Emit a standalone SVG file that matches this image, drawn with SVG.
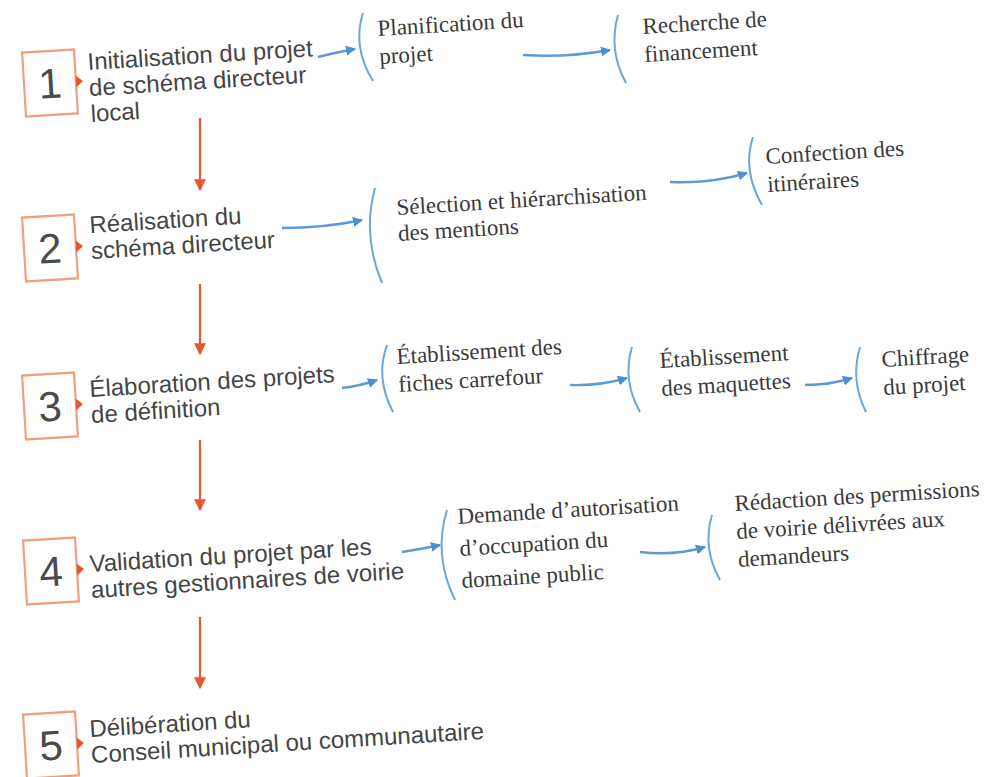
<svg xmlns="http://www.w3.org/2000/svg" width="1006" height="777" viewBox="0 0 1006 777">
<defs>
<style>
.bg{fill:#ffffff}
.box{fill:#ffffff;stroke:#f0a07e;stroke-width:2.2}
.num{font-family:"Liberation Sans",Arial,sans-serif;font-size:42px;fill:#4a4a4a;text-anchor:middle}
.tri{fill:#e8562e}
.sans{font-family:"Liberation Sans",Arial,sans-serif;font-size:24px;fill:#454545}
.serif{font-family:"Liberation Serif","Times New Roman",serif;font-size:23px;fill:#3a3a3a}
.red{stroke:#e8562e;stroke-width:2.2;fill:none}
.blue{stroke:#5b9bd5;stroke-width:2.4;fill:none}
.brk{stroke:#6aa6dc;stroke-width:2;fill:none}
</style>
<marker id="ar" viewBox="0 0 10 10" refX="9" refY="5" markerWidth="14" markerHeight="12" markerUnits="userSpaceOnUse" orient="auto">
<path d="M0,0 L10,5 L0,10 Z" fill="#e8562e"/>
</marker>
<marker id="ab" viewBox="0 0 10 10" refX="9" refY="5" markerWidth="10" markerHeight="10" markerUnits="userSpaceOnUse" orient="auto">
<path d="M0,0 L10,5 L0,10 Z" fill="#4a8fd0"/>
</marker>
</defs>
<rect class="bg" x="0" y="0" width="1006" height="777"/>

<g id="connectors">
<line class="red" x1="200" y1="118" x2="200" y2="190" marker-end="url(#ar)"/>
<line class="red" x1="200" y1="284" x2="200" y2="354" marker-end="url(#ar)"/>
<line class="red" x1="200" y1="440" x2="200" y2="510" marker-end="url(#ar)"/>
<line class="red" x1="200" y1="617" x2="200" y2="688" marker-end="url(#ar)"/>
<path class="blue" d="M318,57 Q338,52 355,49" marker-end="url(#ab)"/>
<path class="blue" d="M523,55 Q565,58 610,50" marker-end="url(#ab)"/>
<path class="blue" d="M282,228 Q325,228 362,220" marker-end="url(#ab)"/>
<path class="blue" d="M670,182 Q710,184 747,173" marker-end="url(#ab)"/>
<path class="blue" d="M342,388 Q360,386 377,380" marker-end="url(#ab)"/>
<path class="blue" d="M570,385 Q600,386 627,378" marker-end="url(#ab)"/>
<path class="blue" d="M805,385 Q830,385 852,378" marker-end="url(#ab)"/>
<path class="blue" d="M402,552 Q422,549 440,545" marker-end="url(#ab)"/>
<path class="blue" d="M640,552 Q675,556 705,547" marker-end="url(#ab)"/>
</g>

<g id="n1">
<g transform="rotate(-3.5 50 83)">
<rect class="box" x="24" y="51" width="52" height="64"/>
<text class="num" x="50" y="98">1</text>
<path class="tri" d="M76,77 L83,83 L76,89 Z"/>
</g>
<text class="sans" transform="translate(88,70) rotate(-3.5)"><tspan x="0" y="0">Initialisation du projet</tspan><tspan x="0" y="26">de schéma directeur</tspan><tspan x="0" y="52">local</tspan></text>
</g>
<g id="n1b">
<path class="brk" d="M363,13 Q352,47 373,81"/>
<text class="serif" transform="translate(378,36) rotate(-3.5)"><tspan x="0" y="0">Planification du</tspan><tspan x="0" y="28">projet</tspan></text>
</g>
<g id="n1c">
<path class="brk" d="M618,15 Q608,50 626,83"/>
<text class="serif" transform="translate(643,34) rotate(-3.5)"><tspan x="0" y="0">Recherche de</tspan><tspan x="0" y="28">financement</tspan></text>
</g>

<g id="n2">
<g transform="rotate(-3.5 50 248)">
<rect class="box" x="24" y="216" width="52" height="64"/>
<text class="num" x="50" y="263">2</text>
<path class="tri" d="M76,242 L83,248 L76,254 Z"/>
</g>
<text class="sans" transform="translate(90,233) rotate(-3.5)"><tspan x="0" y="0">Réalisation du</tspan><tspan x="0" y="26">schéma directeur</tspan></text>
</g>
<g id="n2b">
<path class="brk" d="M375,188 Q362,235 382,283"/>
<text class="serif" transform="translate(397,215) rotate(-3.5)"><tspan x="0" y="0">Sélection et hiérarchisation</tspan><tspan x="0" y="26">des mentions</tspan></text>
</g>
<g id="n2c">
<path class="brk" d="M753,137 Q742,170 762,205"/>
<text class="serif" transform="translate(766,164) rotate(-3.5)"><tspan x="0" y="0">Confection des</tspan><tspan x="0" y="28">itinéraires</tspan></text>
</g>

<g id="n3">
<g transform="rotate(-3.5 50 406)">
<rect class="box" x="24" y="374" width="52" height="64"/>
<text class="num" x="50" y="421">3</text>
<path class="tri" d="M76,400 L83,406 L76,412 Z"/>
</g>
<text class="sans" transform="translate(90,397) rotate(-3.5)"><tspan x="0" y="0">Élaboration des projets</tspan><tspan x="0" y="26">de définition</tspan></text>
</g>
<g id="n3b">
<path class="brk" d="M387,345 Q375,378 393,412"/>
<text class="serif" transform="translate(397,364) rotate(-3.5)"><tspan x="0" y="0">Établissement des</tspan><tspan x="0" y="28">fiches carrefour</tspan></text>
</g>
<g id="n3c">
<path class="brk" d="M632,347 Q622,380 640,412"/>
<text class="serif" transform="translate(660,368) rotate(-3.5)"><tspan x="0" y="0">Établissement</tspan><tspan x="0" y="28">des maquettes</tspan></text>
</g>
<g id="n3d">
<path class="brk" d="M860,347 Q850,380 866,412"/>
<text class="serif" transform="translate(882,367) rotate(-3.5)"><tspan x="0" y="0">Chiffrage</tspan><tspan x="0" y="28">du projet</tspan></text>
</g>

<g id="n4">
<g transform="rotate(-3.5 51 571)">
<rect class="box" x="25" y="539" width="52" height="64"/>
<text class="num" x="51" y="586">4</text>
<path class="tri" d="M77,565 L84,571 L77,577 Z"/>
</g>
<text class="sans" transform="translate(90,572) rotate(-3.5)"><tspan x="0" y="0">Validation du projet par les</tspan><tspan x="0" y="26">autres gestionnaires de voirie</tspan></text>
</g>
<g id="n4b">
<path class="brk" d="M447,510 Q433,555 455,600"/>
<text class="serif" transform="translate(458,524) rotate(-3.5)"><tspan x="0" y="0">Demande d’autorisation</tspan><tspan x="0" y="32">d’occupation du</tspan><tspan x="0" y="64">domaine public</tspan></text>
</g>
<g id="n4c">
<path class="brk" d="M712,515 Q702,548 720,580"/>
<text class="serif" transform="translate(735,511) rotate(-3.5)"><tspan x="0" y="0">Rédaction des permissions</tspan><tspan x="0" y="28">de voirie délivrées aux</tspan><tspan x="0" y="56">demandeurs</tspan></text>
</g>

<g id="n5">
<g transform="rotate(-3.5 51 745)">
<rect class="box" x="25" y="713" width="52" height="64"/>
<text class="num" x="51" y="760">5</text>
<path class="tri" d="M77,739 L84,745 L77,751 Z"/>
</g>
<text class="sans" transform="translate(90,737) rotate(-3.5)"><tspan x="0" y="0">Délibération du</tspan><tspan x="0" y="26">Conseil municipal ou communautaire</tspan></text>
</g>
</svg>
